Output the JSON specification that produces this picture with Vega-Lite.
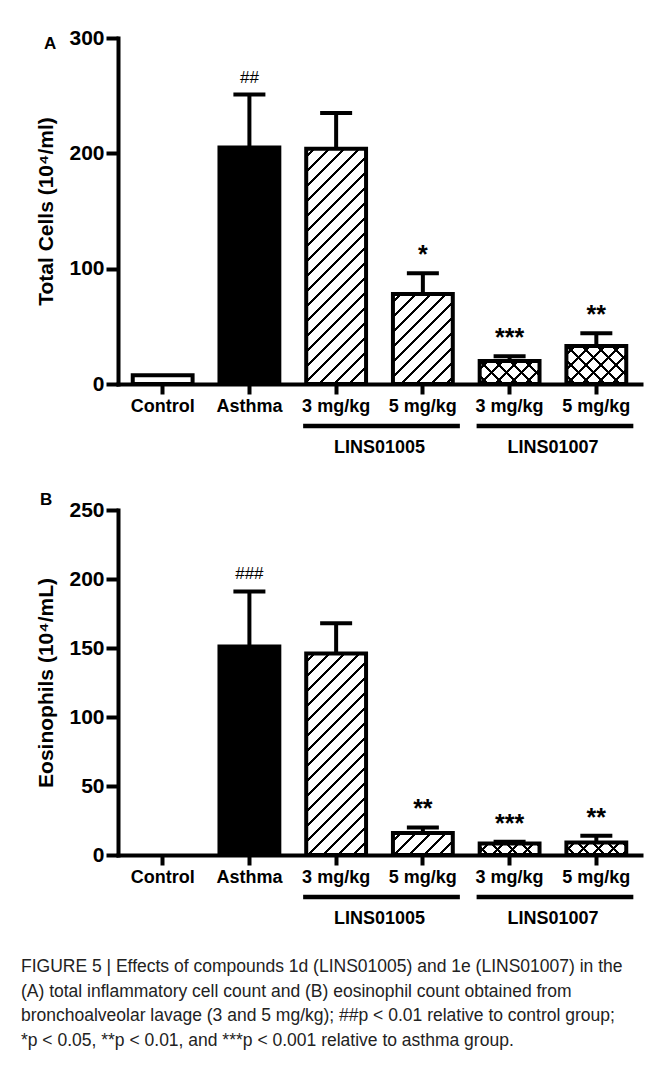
{
  "$schema": "https://vega.github.io/schema/vega-lite/v6.json",
  "padding": {"left": 20, "top": 27, "right": 5, "bottom": 5},
  "background": "white",
  "spacing": 34,
  "config": {
    "view": {"stroke": null},
    "font": "Liberation Sans",
    "axis": {
      "domainColor": "black", "domainWidth": 4, "domainCap": "square",
      "tickColor": "black", "tickWidth": 4,
      "labelColor": "black", "titleColor": "black",
      "labelFont": "Liberation Sans", "titleFont": "Liberation Sans",
      "labelFontWeight": "bold", "titleFontWeight": "bold", "grid": false
    },
    "axisY": {"tickSize": 12, "labelFontSize": 21, "labelPadding": 2, "titleFontSize": 21, "titlePadding": 12},
    "axisX": {"tickSize": 10, "labelFontSize": 18, "labelPadding": 3, "labelAngle": 0, "labelOverlap": false}
  },
  "datasets": {
    "barsA": [
      {"treatment": "Control", "mean": 7.5, "upper": 7.5, "sig": ""},
      {"treatment": "Asthma", "mean": 205, "upper": 251, "sig": "##"},
      {"treatment": "3 mg/kg|LINS01005", "mean": 204, "upper": 235, "sig": "", "group": "LINS01005", "last": "5 mg/kg|LINS01005"},
      {"treatment": "5 mg/kg|LINS01005", "mean": 78, "upper": 96, "sig": "*"},
      {"treatment": "3 mg/kg|LINS01007", "mean": 20, "upper": 24, "sig": "***", "group": "LINS01007", "last": "5 mg/kg|LINS01007"},
      {"treatment": "5 mg/kg|LINS01007", "mean": 33, "upper": 44, "sig": "**"}
    ],
    "barsB": [
      {"treatment": "Control", "mean": 0, "upper": 0, "sig": ""},
      {"treatment": "Asthma", "mean": 151, "upper": 191, "sig": "###"},
      {"treatment": "3 mg/kg|LINS01005", "mean": 146, "upper": 168, "sig": "", "group": "LINS01005", "last": "5 mg/kg|LINS01005"},
      {"treatment": "5 mg/kg|LINS01005", "mean": 16, "upper": 20, "sig": "**"},
      {"treatment": "3 mg/kg|LINS01007", "mean": 8.4, "upper": 9.6, "sig": "***", "group": "LINS01007", "last": "5 mg/kg|LINS01007"},
      {"treatment": "5 mg/kg|LINS01007", "mean": 9, "upper": 14, "sig": "**"}
    ]
  },
  "title": {
    "text": [
      "FIGURE 5 | Effects of compounds 1d (LINS01005) and 1e (LINS01007) in the",
      "(A) total inflammatory cell count and (B) eosinophil count obtained from",
      "bronchoalveolar lavage (3 and 5 mg/kg); ##p < 0.01 relative to control group;",
      "*p < 0.05, **p < 0.01, and ***p < 0.001 relative to asthma group."
    ],
    "orient": "bottom", "anchor": "start", "frame": "bounds", "offset": 30, "dx": -15,
    "font": "Liberation Sans", "fontSize": 17.5, "fontWeight": "normal", "color": "#222", "lineHeight": 24.5
  },
  "vconcat": [
    {
      "width": 523, "height": 346,
      "data": {"name": "barsA"},
      "title": {"text": "A", "anchor": "start", "frame": "bounds", "fontSize": 17, "fontWeight": "bold", "color": "black", "offset": -26, "dx": 8},
      "encoding": {
        "x": {"field": "treatment", "type": "nominal",
          "scale": {"domain": ["Control", "Asthma", "3 mg/kg|LINS01005", "5 mg/kg|LINS01005", "3 mg/kg|LINS01007", "5 mg/kg|LINS01007"], "paddingInner": 0.31, "paddingOuter": 0.17},
          "axis": {"title": null, "labelExpr": "split(datum.label, '|')[0]"}},
        "y": {"field": "mean", "type": "quantitative", "scale": {"domain": [0, 300], "nice": false},
          "axis": {"title": "Total Cells (10⁴/ml)", "values": [0, 100, 200, 300]}}
      },
      "layer": [
        {"transform": [{"filter": "datum.upper > datum.mean"}], "mark": {"type": "rule", "color": "black", "strokeWidth": 4}, "encoding": {"y2": {"field": "upper"}}},
        {"transform": [{"filter": "datum.upper > datum.mean"}], "mark": {"type": "tick", "color": "black", "thickness": 4, "size": 32, "opacity": 1},
          "encoding": {"y": {"field": "upper", "type": "quantitative", "axis": {"title": "Total Cells (10⁴/ml)", "values": [0, 100, 200, 300]}}}},
        {"transform": [{"filter": "(datum.treatment == 'Control' || datum.treatment == 'Asthma') && datum.mean > 0"}],
          "mark": {"type": "bar", "stroke": "black", "strokeWidth": 4},
          "encoding": {"fill": {"condition": {"test": "datum.treatment == 'Asthma'", "value": "black"}, "value": "white"}}},
        {"transform": [{"filter": "datum.treatment == '3 mg/kg|LINS01005'"}],
          "mark": {"type": "bar", "stroke": "black", "strokeWidth": 4, "fill": {"gradient": "linear", "x1": 0, "y1": 0, "x2": 0.2997, "y2": 1.1781, "stops": [
            {"offset": 0, "color": "#fff"},
            {"offset": 0.0237, "color": "#fff"}, {"offset": 0.0237, "color": "#000"}, {"offset": 0.0339, "color": "#000"}, {"offset": 0.0339, "color": "#fff"},
            {"offset": 0.0745, "color": "#fff"}, {"offset": 0.0745, "color": "#000"}, {"offset": 0.0847, "color": "#000"}, {"offset": 0.0847, "color": "#fff"},
            {"offset": 0.1254, "color": "#fff"}, {"offset": 0.1254, "color": "#000"}, {"offset": 0.1355, "color": "#000"}, {"offset": 0.1355, "color": "#fff"},
            {"offset": 0.1762, "color": "#fff"}, {"offset": 0.1762, "color": "#000"}, {"offset": 0.1864, "color": "#000"}, {"offset": 0.1864, "color": "#fff"},
            {"offset": 0.2270, "color": "#fff"}, {"offset": 0.2270, "color": "#000"}, {"offset": 0.2372, "color": "#000"}, {"offset": 0.2372, "color": "#fff"},
            {"offset": 0.2778, "color": "#fff"}, {"offset": 0.2778, "color": "#000"}, {"offset": 0.2880, "color": "#000"}, {"offset": 0.2880, "color": "#fff"},
            {"offset": 0.3287, "color": "#fff"}, {"offset": 0.3287, "color": "#000"}, {"offset": 0.3388, "color": "#000"}, {"offset": 0.3388, "color": "#fff"},
            {"offset": 0.3795, "color": "#fff"}, {"offset": 0.3795, "color": "#000"}, {"offset": 0.3897, "color": "#000"}, {"offset": 0.3897, "color": "#fff"},
            {"offset": 0.4303, "color": "#fff"}, {"offset": 0.4303, "color": "#000"}, {"offset": 0.4405, "color": "#000"}, {"offset": 0.4405, "color": "#fff"},
            {"offset": 0.4811, "color": "#fff"}, {"offset": 0.4811, "color": "#000"}, {"offset": 0.4913, "color": "#000"}, {"offset": 0.4913, "color": "#fff"},
            {"offset": 0.5320, "color": "#fff"}, {"offset": 0.5320, "color": "#000"}, {"offset": 0.5421, "color": "#000"}, {"offset": 0.5421, "color": "#fff"},
            {"offset": 0.5828, "color": "#fff"}, {"offset": 0.5828, "color": "#000"}, {"offset": 0.5930, "color": "#000"}, {"offset": 0.5930, "color": "#fff"},
            {"offset": 0.6336, "color": "#fff"}, {"offset": 0.6336, "color": "#000"}, {"offset": 0.6438, "color": "#000"}, {"offset": 0.6438, "color": "#fff"},
            {"offset": 0.6845, "color": "#fff"}, {"offset": 0.6845, "color": "#000"}, {"offset": 0.6946, "color": "#000"}, {"offset": 0.6946, "color": "#fff"},
            {"offset": 0.7353, "color": "#fff"}, {"offset": 0.7353, "color": "#000"}, {"offset": 0.7454, "color": "#000"}, {"offset": 0.7454, "color": "#fff"},
            {"offset": 0.7861, "color": "#fff"}, {"offset": 0.7861, "color": "#000"}, {"offset": 0.7963, "color": "#000"}, {"offset": 0.7963, "color": "#fff"},
            {"offset": 0.8369, "color": "#fff"}, {"offset": 0.8369, "color": "#000"}, {"offset": 0.8471, "color": "#000"}, {"offset": 0.8471, "color": "#fff"},
            {"offset": 0.8877, "color": "#fff"}, {"offset": 0.8877, "color": "#000"}, {"offset": 0.8979, "color": "#000"}, {"offset": 0.8979, "color": "#fff"},
            {"offset": 0.9386, "color": "#fff"}, {"offset": 0.9386, "color": "#000"}, {"offset": 0.9487, "color": "#000"}, {"offset": 0.9487, "color": "#fff"},
            {"offset": 0.9894, "color": "#fff"}, {"offset": 0.9894, "color": "#000"}, {"offset": 0.9995, "color": "#000"}, {"offset": 0.9995, "color": "#fff"},
            {"offset": 1, "color": "#fff"}]}}},
        {"transform": [{"filter": "datum.treatment == '5 mg/kg|LINS01005'"}],
          "mark": {"type": "bar", "stroke": "black", "strokeWidth": 4, "fill": {"gradient": "linear", "x1": 0, "y1": 0, "x2": 0.7680, "y2": 1.1544, "stops": [
            {"offset": 0, "color": "#fff"},
            {"offset": 0.0467, "color": "#fff"}, {"offset": 0.0467, "color": "#000"}, {"offset": 0.0668, "color": "#000"}, {"offset": 0.0668, "color": "#fff"},
            {"offset": 0.1469, "color": "#fff"}, {"offset": 0.1469, "color": "#000"}, {"offset": 0.1669, "color": "#000"}, {"offset": 0.1669, "color": "#fff"},
            {"offset": 0.2470, "color": "#fff"}, {"offset": 0.2470, "color": "#000"}, {"offset": 0.2670, "color": "#000"}, {"offset": 0.2670, "color": "#fff"},
            {"offset": 0.3471, "color": "#fff"}, {"offset": 0.3471, "color": "#000"}, {"offset": 0.3671, "color": "#000"}, {"offset": 0.3671, "color": "#fff"},
            {"offset": 0.4472, "color": "#fff"}, {"offset": 0.4472, "color": "#000"}, {"offset": 0.4673, "color": "#000"}, {"offset": 0.4673, "color": "#fff"},
            {"offset": 0.5474, "color": "#fff"}, {"offset": 0.5474, "color": "#000"}, {"offset": 0.5674, "color": "#000"}, {"offset": 0.5674, "color": "#fff"},
            {"offset": 0.6475, "color": "#fff"}, {"offset": 0.6475, "color": "#000"}, {"offset": 0.6675, "color": "#000"}, {"offset": 0.6675, "color": "#fff"},
            {"offset": 0.7476, "color": "#fff"}, {"offset": 0.7476, "color": "#000"}, {"offset": 0.7676, "color": "#000"}, {"offset": 0.7676, "color": "#fff"},
            {"offset": 0.8477, "color": "#fff"}, {"offset": 0.8477, "color": "#000"}, {"offset": 0.8678, "color": "#000"}, {"offset": 0.8678, "color": "#fff"},
            {"offset": 0.9479, "color": "#fff"}, {"offset": 0.9479, "color": "#000"}, {"offset": 0.9679, "color": "#000"}, {"offset": 0.9679, "color": "#fff"},
            {"offset": 1, "color": "#fff"}]}}},
        {"transform": [{"filter": "datum.treatment == '3 mg/kg|LINS01007'"}],
          "mark": {"type": "bar", "stroke": "black", "strokeWidth": 4, "fill": {"gradient": "linear", "x1": 0, "y1": 0, "x2": 1.2064, "y2": 0.4650, "stops": [
            {"offset": 0, "color": "#fff"},
            {"offset": 0.0844, "color": "#fff"}, {"offset": 0.0844, "color": "#000"}, {"offset": 0.1206, "color": "#000"}, {"offset": 0.1206, "color": "#fff"},
            {"offset": 0.2653, "color": "#fff"}, {"offset": 0.2653, "color": "#000"}, {"offset": 0.3015, "color": "#000"}, {"offset": 0.3015, "color": "#fff"},
            {"offset": 0.4462, "color": "#fff"}, {"offset": 0.4462, "color": "#000"}, {"offset": 0.4824, "color": "#000"}, {"offset": 0.4824, "color": "#fff"},
            {"offset": 0.6271, "color": "#fff"}, {"offset": 0.6271, "color": "#000"}, {"offset": 0.6633, "color": "#000"}, {"offset": 0.6633, "color": "#fff"},
            {"offset": 0.8080, "color": "#fff"}, {"offset": 0.8080, "color": "#000"}, {"offset": 0.8442, "color": "#000"}, {"offset": 0.8442, "color": "#fff"},
            {"offset": 0.9889, "color": "#fff"}, {"offset": 0.9889, "color": "#000"}, {"offset": 1, "color": "#000"}]}}},
        {"transform": [{"filter": "datum.treatment == '5 mg/kg|LINS01007'"}],
          "mark": {"type": "bar", "stroke": "black", "strokeWidth": 4, "fill": {"gradient": "linear", "x1": 0, "y1": 0, "x2": 1.1650, "y2": 0.7408, "stops": [
            {"offset": 0, "color": "#fff"},
            {"offset": 0.0715, "color": "#fff"}, {"offset": 0.0715, "color": "#000"}, {"offset": 0.1021, "color": "#000"}, {"offset": 0.1021, "color": "#fff"},
            {"offset": 0.2247, "color": "#fff"}, {"offset": 0.2247, "color": "#000"}, {"offset": 0.2553, "color": "#000"}, {"offset": 0.2553, "color": "#fff"},
            {"offset": 0.3779, "color": "#fff"}, {"offset": 0.3779, "color": "#000"}, {"offset": 0.4085, "color": "#000"}, {"offset": 0.4085, "color": "#fff"},
            {"offset": 0.5311, "color": "#fff"}, {"offset": 0.5311, "color": "#000"}, {"offset": 0.5617, "color": "#000"}, {"offset": 0.5617, "color": "#fff"},
            {"offset": 0.6843, "color": "#fff"}, {"offset": 0.6843, "color": "#000"}, {"offset": 0.7149, "color": "#000"}, {"offset": 0.7149, "color": "#fff"},
            {"offset": 0.8375, "color": "#fff"}, {"offset": 0.8375, "color": "#000"}, {"offset": 0.8681, "color": "#000"}, {"offset": 0.8681, "color": "#fff"},
            {"offset": 0.9907, "color": "#fff"}, {"offset": 0.9907, "color": "#000"}, {"offset": 1, "color": "#000"}]}}},
        {"transform": [{"filter": "datum.treatment == '3 mg/kg|LINS01007'"}],
          "mark": {"type": "bar", "strokeWidth": 0, "fill": {"gradient": "linear", "x1": 0, "y1": 1, "x2": 1.2064, "y2": 0.5350, "stops": [
            {"offset": 0, "color": "rgba(0,0,0,0)"},
            {"offset": 0.0844, "color": "rgba(0,0,0,0)"}, {"offset": 0.0844, "color": "#000"}, {"offset": 0.1206, "color": "#000"}, {"offset": 0.1206, "color": "rgba(0,0,0,0)"},
            {"offset": 0.2653, "color": "rgba(0,0,0,0)"}, {"offset": 0.2653, "color": "#000"}, {"offset": 0.3015, "color": "#000"}, {"offset": 0.3015, "color": "rgba(0,0,0,0)"},
            {"offset": 0.4462, "color": "rgba(0,0,0,0)"}, {"offset": 0.4462, "color": "#000"}, {"offset": 0.4824, "color": "#000"}, {"offset": 0.4824, "color": "rgba(0,0,0,0)"},
            {"offset": 0.6271, "color": "rgba(0,0,0,0)"}, {"offset": 0.6271, "color": "#000"}, {"offset": 0.6633, "color": "#000"}, {"offset": 0.6633, "color": "rgba(0,0,0,0)"},
            {"offset": 0.8080, "color": "rgba(0,0,0,0)"}, {"offset": 0.8080, "color": "#000"}, {"offset": 0.8442, "color": "#000"}, {"offset": 0.8442, "color": "rgba(0,0,0,0)"},
            {"offset": 0.9889, "color": "rgba(0,0,0,0)"}, {"offset": 0.9889, "color": "#000"}, {"offset": 1, "color": "#000"}]}}},
        {"transform": [{"filter": "datum.treatment == '5 mg/kg|LINS01007'"}],
          "mark": {"type": "bar", "strokeWidth": 0, "fill": {"gradient": "linear", "x1": 0, "y1": 1, "x2": 1.1650, "y2": 0.2592, "stops": [
            {"offset": 0, "color": "rgba(0,0,0,0)"},
            {"offset": 0.0715, "color": "rgba(0,0,0,0)"}, {"offset": 0.0715, "color": "#000"}, {"offset": 0.1021, "color": "#000"}, {"offset": 0.1021, "color": "rgba(0,0,0,0)"},
            {"offset": 0.2247, "color": "rgba(0,0,0,0)"}, {"offset": 0.2247, "color": "#000"}, {"offset": 0.2553, "color": "#000"}, {"offset": 0.2553, "color": "rgba(0,0,0,0)"},
            {"offset": 0.3779, "color": "rgba(0,0,0,0)"}, {"offset": 0.3779, "color": "#000"}, {"offset": 0.4085, "color": "#000"}, {"offset": 0.4085, "color": "rgba(0,0,0,0)"},
            {"offset": 0.5311, "color": "rgba(0,0,0,0)"}, {"offset": 0.5311, "color": "#000"}, {"offset": 0.5617, "color": "#000"}, {"offset": 0.5617, "color": "rgba(0,0,0,0)"},
            {"offset": 0.6843, "color": "rgba(0,0,0,0)"}, {"offset": 0.6843, "color": "#000"}, {"offset": 0.7149, "color": "#000"}, {"offset": 0.7149, "color": "rgba(0,0,0,0)"},
            {"offset": 0.8375, "color": "rgba(0,0,0,0)"}, {"offset": 0.8375, "color": "#000"}, {"offset": 0.8681, "color": "#000"}, {"offset": 0.8681, "color": "rgba(0,0,0,0)"},
            {"offset": 0.9907, "color": "rgba(0,0,0,0)"}, {"offset": 0.9907, "color": "#000"}, {"offset": 1, "color": "#000"}]}}},
        {"transform": [{"filter": "indexof(datum.sig, '#') >= 0"}],
          "mark": {"type": "text", "dy": -12, "baseline": "alphabetic", "color": "black", "fontSize": 17, "fontWeight": "normal"},
          "encoding": {"y": {"field": "upper", "type": "quantitative", "axis": {"title": "Total Cells (10⁴/ml)", "values": [0, 100, 200, 300]}}, "text": {"field": "sig"}}},
        {"transform": [{"filter": "indexof(datum.sig, '*') >= 0"}],
          "mark": {"type": "text", "dy": -10, "baseline": "alphabetic", "color": "black", "fontSize": 25, "fontWeight": "bold"},
          "encoding": {"y": {"field": "upper", "type": "quantitative", "axis": {"title": "Total Cells (10⁴/ml)", "values": [0, 100, 200, 300]}}, "text": {"field": "sig"}}},
        {"transform": [{"filter": "isValid(datum.group)"}],
          "mark": {"type": "rule", "color": "black", "strokeWidth": 4.5, "xOffset": -33, "x2Offset": 37, "yOffset": 42},
          "encoding": {"x2": {"field": "last"}, "y": {"datum": 0, "type": "quantitative", "axis": {"title": "Total Cells (10⁴/ml)", "values": [0, 100, 200, 300]}}}},
        {"transform": [{"filter": "isValid(datum.group)"}],
          "mark": {"type": "text", "color": "black", "fontSize": 18, "fontWeight": "bold", "baseline": "middle", "align": "center", "xOffset": 43.4, "yOffset": 64},
          "encoding": {"y": {"datum": 0, "type": "quantitative", "axis": {"title": "Total Cells (10⁴/ml)", "values": [0, 100, 200, 300]}}, "text": {"field": "group"}}}
      ]
    },
    {
      "width": 523, "height": 345,
      "data": {"name": "barsB"},
      "title": {"text": "B", "anchor": "start", "frame": "bounds", "fontSize": 17, "fontWeight": "bold", "color": "black", "offset": -10, "dx": 4},
      "encoding": {
        "x": {"field": "treatment", "type": "nominal",
          "scale": {"domain": ["Control", "Asthma", "3 mg/kg|LINS01005", "5 mg/kg|LINS01005", "3 mg/kg|LINS01007", "5 mg/kg|LINS01007"], "paddingInner": 0.31, "paddingOuter": 0.17},
          "axis": {"title": null, "labelExpr": "split(datum.label, '|')[0]"}},
        "y": {"field": "mean", "type": "quantitative", "scale": {"domain": [0, 250], "nice": false},
          "axis": {"title": "Eosinophils (10⁴/mL)", "values": [0, 50, 100, 150, 200, 250]}}
      },
      "layer": [
        {"transform": [{"filter": "datum.upper > datum.mean"}], "mark": {"type": "rule", "color": "black", "strokeWidth": 4}, "encoding": {"y2": {"field": "upper"}}},
        {"transform": [{"filter": "datum.upper > datum.mean"}], "mark": {"type": "tick", "color": "black", "thickness": 4, "size": 32, "opacity": 1},
          "encoding": {"y": {"field": "upper", "type": "quantitative", "axis": {"title": "Eosinophils (10⁴/mL)", "values": [0, 50, 100, 150, 200, 250]}}}},
        {"transform": [{"filter": "(datum.treatment == 'Control' || datum.treatment == 'Asthma') && datum.mean > 0"}],
          "mark": {"type": "bar", "stroke": "black", "strokeWidth": 4},
          "encoding": {"fill": {"condition": {"test": "datum.treatment == 'Asthma'", "value": "black"}, "value": "white"}}},
        {"transform": [{"filter": "datum.treatment == '3 mg/kg|LINS01005'"}],
          "mark": {"type": "bar", "stroke": "black", "strokeWidth": 4, "fill": {"gradient": "linear", "x1": 0, "y1": 0, "x2": 0.3541, "y2": 1.1919, "stops": [
            {"offset": 0, "color": "#fff"},
            {"offset": 0.0268, "color": "#fff"}, {"offset": 0.0268, "color": "#000"}, {"offset": 0.0383, "color": "#000"}, {"offset": 0.0383, "color": "#fff"},
            {"offset": 0.0842, "color": "#fff"}, {"offset": 0.0842, "color": "#000"}, {"offset": 0.0957, "color": "#000"}, {"offset": 0.0957, "color": "#fff"},
            {"offset": 0.1416, "color": "#fff"}, {"offset": 0.1416, "color": "#000"}, {"offset": 0.1531, "color": "#000"}, {"offset": 0.1531, "color": "#fff"},
            {"offset": 0.1990, "color": "#fff"}, {"offset": 0.1990, "color": "#000"}, {"offset": 0.2105, "color": "#000"}, {"offset": 0.2105, "color": "#fff"},
            {"offset": 0.2564, "color": "#fff"}, {"offset": 0.2564, "color": "#000"}, {"offset": 0.2679, "color": "#000"}, {"offset": 0.2679, "color": "#fff"},
            {"offset": 0.3138, "color": "#fff"}, {"offset": 0.3138, "color": "#000"}, {"offset": 0.3253, "color": "#000"}, {"offset": 0.3253, "color": "#fff"},
            {"offset": 0.3712, "color": "#fff"}, {"offset": 0.3712, "color": "#000"}, {"offset": 0.3827, "color": "#000"}, {"offset": 0.3827, "color": "#fff"},
            {"offset": 0.4286, "color": "#fff"}, {"offset": 0.4286, "color": "#000"}, {"offset": 0.4401, "color": "#000"}, {"offset": 0.4401, "color": "#fff"},
            {"offset": 0.4860, "color": "#fff"}, {"offset": 0.4860, "color": "#000"}, {"offset": 0.4975, "color": "#000"}, {"offset": 0.4975, "color": "#fff"},
            {"offset": 0.5434, "color": "#fff"}, {"offset": 0.5434, "color": "#000"}, {"offset": 0.5549, "color": "#000"}, {"offset": 0.5549, "color": "#fff"},
            {"offset": 0.6008, "color": "#fff"}, {"offset": 0.6008, "color": "#000"}, {"offset": 0.6123, "color": "#000"}, {"offset": 0.6123, "color": "#fff"},
            {"offset": 0.6582, "color": "#fff"}, {"offset": 0.6582, "color": "#000"}, {"offset": 0.6697, "color": "#000"}, {"offset": 0.6697, "color": "#fff"},
            {"offset": 0.7156, "color": "#fff"}, {"offset": 0.7156, "color": "#000"}, {"offset": 0.7271, "color": "#000"}, {"offset": 0.7271, "color": "#fff"},
            {"offset": 0.7730, "color": "#fff"}, {"offset": 0.7730, "color": "#000"}, {"offset": 0.7845, "color": "#000"}, {"offset": 0.7845, "color": "#fff"},
            {"offset": 0.8304, "color": "#fff"}, {"offset": 0.8304, "color": "#000"}, {"offset": 0.8419, "color": "#000"}, {"offset": 0.8419, "color": "#fff"},
            {"offset": 0.8878, "color": "#fff"}, {"offset": 0.8878, "color": "#000"}, {"offset": 0.8993, "color": "#000"}, {"offset": 0.8993, "color": "#fff"},
            {"offset": 0.9452, "color": "#fff"}, {"offset": 0.9452, "color": "#000"}, {"offset": 0.9567, "color": "#000"}, {"offset": 0.9567, "color": "#fff"},
            {"offset": 1, "color": "#fff"}]}}},
        {"transform": [{"filter": "datum.treatment == '5 mg/kg|LINS01005'"}],
          "mark": {"type": "bar", "stroke": "black", "strokeWidth": 4, "fill": {"gradient": "linear", "x1": 0, "y1": 0, "x2": 1.2051, "y2": 0.4446, "stops": [
            {"offset": 0, "color": "#fff"},
            {"offset": 0.0854, "color": "#fff"}, {"offset": 0.0854, "color": "#000"}, {"offset": 0.1221, "color": "#000"}, {"offset": 0.1221, "color": "#fff"},
            {"offset": 0.2685, "color": "#fff"}, {"offset": 0.2685, "color": "#000"}, {"offset": 0.3051, "color": "#000"}, {"offset": 0.3051, "color": "#fff"},
            {"offset": 0.4516, "color": "#fff"}, {"offset": 0.4516, "color": "#000"}, {"offset": 0.4882, "color": "#000"}, {"offset": 0.4882, "color": "#fff"},
            {"offset": 0.6347, "color": "#fff"}, {"offset": 0.6347, "color": "#000"}, {"offset": 0.6713, "color": "#000"}, {"offset": 0.6713, "color": "#fff"},
            {"offset": 0.8177, "color": "#fff"}, {"offset": 0.8177, "color": "#000"}, {"offset": 0.8544, "color": "#000"}, {"offset": 0.8544, "color": "#fff"},
            {"offset": 1, "color": "#fff"}]}}},
        {"transform": [{"filter": "datum.treatment == '3 mg/kg|LINS01007'"}],
          "mark": {"type": "bar", "stroke": "black", "strokeWidth": 4, "fill": {"gradient": "linear", "x1": 0, "y1": 0, "x2": 1.1507, "y2": 0.2228, "stops": [
            {"offset": 0, "color": "#fff"},
            {"offset": 0.0980, "color": "#fff"}, {"offset": 0.0980, "color": "#000"}, {"offset": 0.1400, "color": "#000"}, {"offset": 0.1400, "color": "#fff"},
            {"offset": 0.3080, "color": "#fff"}, {"offset": 0.3080, "color": "#000"}, {"offset": 0.3500, "color": "#000"}, {"offset": 0.3500, "color": "#fff"},
            {"offset": 0.5179, "color": "#fff"}, {"offset": 0.5179, "color": "#000"}, {"offset": 0.5599, "color": "#000"}, {"offset": 0.5599, "color": "#fff"},
            {"offset": 0.7279, "color": "#fff"}, {"offset": 0.7279, "color": "#000"}, {"offset": 0.7699, "color": "#000"}, {"offset": 0.7699, "color": "#fff"},
            {"offset": 0.9379, "color": "#fff"}, {"offset": 0.9379, "color": "#000"}, {"offset": 0.9799, "color": "#000"}, {"offset": 0.9799, "color": "#fff"},
            {"offset": 1, "color": "#fff"}]}}},
        {"transform": [{"filter": "datum.treatment == '5 mg/kg|LINS01007'"}],
          "mark": {"type": "bar", "stroke": "black", "strokeWidth": 4, "fill": {"gradient": "linear", "x1": 0, "y1": 0, "x2": 1.1578, "y2": 0.2403, "stops": [
            {"offset": 0, "color": "#fff"},
            {"offset": 0.0969, "color": "#fff"}, {"offset": 0.0969, "color": "#000"}, {"offset": 0.1384, "color": "#000"}, {"offset": 0.1384, "color": "#fff"},
            {"offset": 0.3044, "color": "#fff"}, {"offset": 0.3044, "color": "#000"}, {"offset": 0.3459, "color": "#000"}, {"offset": 0.3459, "color": "#fff"},
            {"offset": 0.5120, "color": "#fff"}, {"offset": 0.5120, "color": "#000"}, {"offset": 0.5535, "color": "#000"}, {"offset": 0.5535, "color": "#fff"},
            {"offset": 0.7195, "color": "#fff"}, {"offset": 0.7195, "color": "#000"}, {"offset": 0.7610, "color": "#000"}, {"offset": 0.7610, "color": "#fff"},
            {"offset": 0.9271, "color": "#fff"}, {"offset": 0.9271, "color": "#000"}, {"offset": 0.9686, "color": "#000"}, {"offset": 0.9686, "color": "#fff"},
            {"offset": 1, "color": "#fff"}]}}},
        {"transform": [{"filter": "datum.treatment == '3 mg/kg|LINS01007'"}],
          "mark": {"type": "bar", "strokeWidth": 0, "fill": {"gradient": "linear", "x1": 0, "y1": 1, "x2": 1.1507, "y2": 0.7772, "stops": [
            {"offset": 0, "color": "rgba(0,0,0,0)"},
            {"offset": 0.0980, "color": "rgba(0,0,0,0)"}, {"offset": 0.0980, "color": "#000"}, {"offset": 0.1400, "color": "#000"}, {"offset": 0.1400, "color": "rgba(0,0,0,0)"},
            {"offset": 0.3080, "color": "rgba(0,0,0,0)"}, {"offset": 0.3080, "color": "#000"}, {"offset": 0.3500, "color": "#000"}, {"offset": 0.3500, "color": "rgba(0,0,0,0)"},
            {"offset": 0.5179, "color": "rgba(0,0,0,0)"}, {"offset": 0.5179, "color": "#000"}, {"offset": 0.5599, "color": "#000"}, {"offset": 0.5599, "color": "rgba(0,0,0,0)"},
            {"offset": 0.7279, "color": "rgba(0,0,0,0)"}, {"offset": 0.7279, "color": "#000"}, {"offset": 0.7699, "color": "#000"}, {"offset": 0.7699, "color": "rgba(0,0,0,0)"},
            {"offset": 0.9379, "color": "rgba(0,0,0,0)"}, {"offset": 0.9379, "color": "#000"}, {"offset": 0.9799, "color": "#000"}, {"offset": 0.9799, "color": "rgba(0,0,0,0)"},
            {"offset": 1, "color": "rgba(0,0,0,0)"}]}}},
        {"transform": [{"filter": "datum.treatment == '5 mg/kg|LINS01007'"}],
          "mark": {"type": "bar", "strokeWidth": 0, "fill": {"gradient": "linear", "x1": 0, "y1": 1, "x2": 1.1578, "y2": 0.7597, "stops": [
            {"offset": 0, "color": "rgba(0,0,0,0)"},
            {"offset": 0.0969, "color": "rgba(0,0,0,0)"}, {"offset": 0.0969, "color": "#000"}, {"offset": 0.1384, "color": "#000"}, {"offset": 0.1384, "color": "rgba(0,0,0,0)"},
            {"offset": 0.3044, "color": "rgba(0,0,0,0)"}, {"offset": 0.3044, "color": "#000"}, {"offset": 0.3459, "color": "#000"}, {"offset": 0.3459, "color": "rgba(0,0,0,0)"},
            {"offset": 0.5120, "color": "rgba(0,0,0,0)"}, {"offset": 0.5120, "color": "#000"}, {"offset": 0.5535, "color": "#000"}, {"offset": 0.5535, "color": "rgba(0,0,0,0)"},
            {"offset": 0.7195, "color": "rgba(0,0,0,0)"}, {"offset": 0.7195, "color": "#000"}, {"offset": 0.7610, "color": "#000"}, {"offset": 0.7610, "color": "rgba(0,0,0,0)"},
            {"offset": 0.9271, "color": "rgba(0,0,0,0)"}, {"offset": 0.9271, "color": "#000"}, {"offset": 0.9686, "color": "#000"}, {"offset": 0.9686, "color": "rgba(0,0,0,0)"},
            {"offset": 1, "color": "rgba(0,0,0,0)"}]}}},
        {"transform": [{"filter": "indexof(datum.sig, '#') >= 0"}],
          "mark": {"type": "text", "dy": -12, "baseline": "alphabetic", "color": "black", "fontSize": 17, "fontWeight": "normal"},
          "encoding": {"y": {"field": "upper", "type": "quantitative", "axis": {"title": "Eosinophils (10⁴/mL)", "values": [0, 50, 100, 150, 200, 250]}}, "text": {"field": "sig"}}},
        {"transform": [{"filter": "indexof(datum.sig, '*') >= 0"}],
          "mark": {"type": "text", "dy": -10, "baseline": "alphabetic", "color": "black", "fontSize": 25, "fontWeight": "bold"},
          "encoding": {"y": {"field": "upper", "type": "quantitative", "axis": {"title": "Eosinophils (10⁴/mL)", "values": [0, 50, 100, 150, 200, 250]}}, "text": {"field": "sig"}}},
        {"transform": [{"filter": "isValid(datum.group)"}],
          "mark": {"type": "rule", "color": "black", "strokeWidth": 4.5, "xOffset": -33, "x2Offset": 37, "yOffset": 42},
          "encoding": {"x2": {"field": "last"}, "y": {"datum": 0, "type": "quantitative", "axis": {"title": "Eosinophils (10⁴/mL)", "values": [0, 50, 100, 150, 200, 250]}}}},
        {"transform": [{"filter": "isValid(datum.group)"}],
          "mark": {"type": "text", "color": "black", "fontSize": 18, "fontWeight": "bold", "baseline": "middle", "align": "center", "xOffset": 43.4, "yOffset": 64},
          "encoding": {"y": {"datum": 0, "type": "quantitative", "axis": {"title": "Eosinophils (10⁴/mL)", "values": [0, 50, 100, 150, 200, 250]}}, "text": {"field": "group"}}}
      ]
    }
  ]
}
